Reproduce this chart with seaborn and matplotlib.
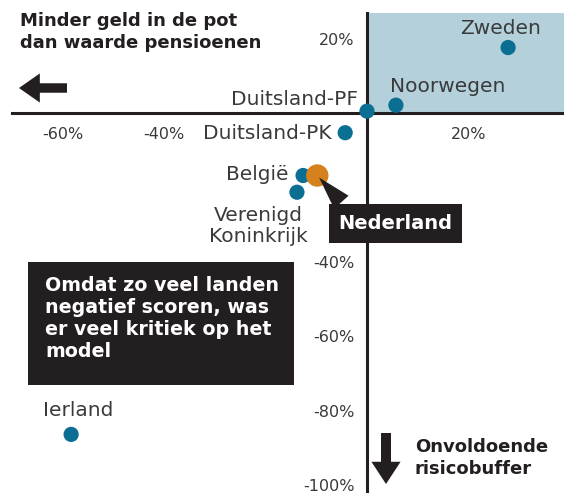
import matplotlib
matplotlib.use("Agg")
import matplotlib.pyplot as plt
import seaborn as sns
import pandas as pd
from matplotlib.patches import Rectangle

# ---- data (percentages) ----
landen = ["Zweden", "Noorwegen", "Duitsland-PF", "Duitsland-PK", "België",
          "Verenigd\nKoninkrijk", "Ierland", "Nederland"]
x_waarden = [27.8, 5.7, 0.0, -4.3, -12.6, -13.8, -58.3, -9.8]
y_waarden = [17.6, 2.1, 0.5, -5.3, -16.8, -21.3, -86.4, -16.8]
groep = ["ander"] * 7 + ["NL"]
x_ticks = [-60, -40, -20, 20]
x_ticklabels = ["-60%", "-40%", "", "20%"]
y_ticks = [20, -20, -40, -60, -80, -100]
y_ticklabels = ["20%", "", "-40%", "-60%", "-80%", "-100%"]

df = pd.DataFrame({"land": landen, "x": x_waarden, "y": y_waarden, "groep": groep})

BLUE = "#0b6f94"
ORANGE = "#d4811e"
DARK = "#231f20"
SHADE = "#b3d0db"
GREY = "#3a3a3a"

sns.set_style("white")
plt.rcParams["font.family"] = ["DejaVu Sans"]

W, H = 564, 495
fig = plt.figure(figsize=(W / 100, H / 100), dpi=100)
ax = fig.add_axes([0, 0, 1, 1])

# pixel scale: x 0 at 367px, 5.075 px per %, y 0 at 113px, 3.72 px per %
x0, sx = 367, 5.075
y0, sy = 113, 3.72
ax.set_xlim(-x0 / sx, (W - x0) / sx)
ax.set_ylim(-(H - y0) / sy, y0 / sy)

# shaded quadrant
ax.add_patch(Rectangle((0, 0), 50, 27, facecolor=SHADE, edgecolor="none", zorder=0))

# axes lines through origin
for s in ["top", "right"]:
    ax.spines[s].set_visible(False)
ax.spines["left"].set_position(("data", 0))
ax.spines["bottom"].set_position(("data", 0))
ax.spines["left"].set_bounds(-101.5, 27)
ax.spines["bottom"].set_bounds(-70, 50)
for s in ["left", "bottom"]:
    ax.spines[s].set_linewidth(2.2)
    ax.spines[s].set_color(DARK)
    ax.spines[s].set_zorder(1)

ax.set_xticks(x_ticks)
ax.set_xticklabels(x_ticklabels)
ax.set_yticks(y_ticks)
ax.set_yticklabels(y_ticklabels)
ax.tick_params(axis="both", direction="out", length=4, width=1, color=GREY,
               labelsize=11.5, labelcolor=GREY)
ax.tick_params(axis="x", pad=6)
ax.tick_params(axis="y", pad=5)

sns.scatterplot(data=df, x="x", y="y", hue="groep", size="groep",
                palette={"ander": BLUE, "NL": ORANGE},
                sizes={"ander": 120, "NL": 260}, linewidth=0,
                legend=False, ax=ax, zorder=5)
ax.set_xlabel("")
ax.set_ylabel("")

lab = dict(fontsize=14.5, color=GREY, textcoords="offset pixels")
offsets = {
    "Zweden": ((-8, 14), "center", "baseline"),
    "Noorwegen": ((-6, 13), "left", "baseline"),
    "Duitsland-PF": ((-9, 6), "right", "baseline"),
    "Duitsland-PK": ((-14, -6), "right", "baseline"),
    "België": ((-15, -5), "right", "baseline"),
    "Verenigd\nKoninkrijk": ((-39, -14), "center", "top"),
    "Ierland": ((7, 18), "center", "baseline"),
}
for land, xv, yv in zip(landen, x_waarden, y_waarden):
    if land in offsets:
        off, ha, va = offsets[land]
        ax.annotate(land, (xv, yv), xytext=off, ha=ha, va=va,
                    multialignment="center", linespacing=1.15, **lab)

# Nederland callout
i = landen.index("Nederland")
ax.annotate("Nederland", (x_waarden[i], y_waarden[i]), xytext=(78, -48),
            textcoords="offset pixels", ha="center", va="center",
            fontsize=14, fontweight="bold", color="white", zorder=6,
            bbox=dict(boxstyle="square,pad=0.5", fc=DARK, ec="none"),
            arrowprops=dict(arrowstyle="wedge,tail_width=1.0,shrink_factor=0.5",
                            fc=DARK, ec="none", relpos=(0.12, 1.0)))

def fx(px):
    return px / W

def fy(py):
    return 1 - py / H

# headings
ax.text(fx(20), fy(12), "Minder geld in de pot\ndan waarde pensioenen",
        transform=ax.transAxes, ha="left", va="top", fontsize=13,
        fontweight="bold", color=DARK, linespacing=1.25)
ax.text(fx(415), fy(438), "Onvoldoende\nrisicobuffer",
        transform=ax.transAxes, ha="left", va="top", fontsize=13,
        fontweight="bold", color=DARK, linespacing=1.25)

# arrows
ax.annotate("", xy=(fx(19), fy(88)), xytext=(fx(67), fy(88)),
            xycoords="axes fraction",
            arrowprops=dict(arrowstyle="simple,head_width=1.05,head_length=0.75,tail_width=0.34",
                            fc=DARK, ec="none", mutation_scale=20, shrinkA=0, shrinkB=0))
ax.annotate("", xy=(fx(386), fy(484)), xytext=(fx(386), fy(433)),
            xycoords="axes fraction",
            arrowprops=dict(arrowstyle="simple,head_width=1.05,head_length=0.8,tail_width=0.36",
                            fc=DARK, ec="none", mutation_scale=20, shrinkA=0, shrinkB=0))

# comment box
ax.add_patch(Rectangle((fx(28), fy(385)), (294 - 28) / W, (385 - 262) / H,
                       transform=ax.transAxes, fc=DARK, ec="none", zorder=6))
ax.text(fx(45), fy(276), "Omdat zo veel landen\nnegatief scoren, was\ner veel kritiek op het\nmodel",
        transform=ax.transAxes, ha="left", va="top", fontsize=13.7,
        fontweight="bold", color="white", linespacing=1.2, zorder=7)

fig.savefig("out.png", dpi=100)
